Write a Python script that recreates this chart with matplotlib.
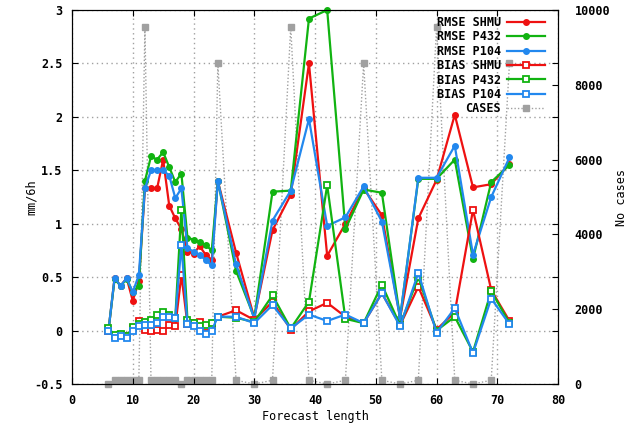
import matplotlib.pyplot as plt
from matplotlib.lines import Line2D

# forecast lengths (h)
lead = list(range(6, 25)) + list(range(27, 73, 3))

rmse_shmu = [0.00, 0.49, 0.42, 0.49, 0.28, 0.46, 1.33, 1.33, 1.33, 1.60, 1.17, 1.05, 0.95, 0.74, 0.72, 0.79, 0.71, 0.66, 1.40,
             0.73, 0.12, 0.94, 1.27, 2.50, 0.70, 1.00, 1.33, 1.08, 0.12, 1.05, 1.41, 2.02, 1.34, 1.37, 1.56]
rmse_p432 = [0.00, 0.48, 0.42, 0.48, 0.36, 0.42, 1.40, 1.63, 1.60, 1.67, 1.53, 1.39, 1.47, 0.87, 0.85, 0.83, 0.80, 0.75, 1.40,
             0.56, 0.12, 1.30, 1.31, 2.92, 3.00, 0.95, 1.32, 1.29, 0.12, 1.42, 1.42, 1.60, 0.67, 1.39, 1.55]
rmse_p104 = [0.00, 0.49, 0.42, 0.49, 0.36, 0.52, 1.33, 1.50, 1.50, 1.50, 1.45, 1.24, 1.33, 0.77, 0.74, 0.71, 0.66, 0.61, 1.40,
             0.62, 0.11, 1.03, 1.31, 1.98, 0.98, 1.06, 1.35, 1.02, 0.12, 1.43, 1.43, 1.73, 0.71, 1.25, 1.62]
bias_shmu = [0.00, -0.05, -0.04, -0.05, 0.02, 0.09, 0.01, 0.00, 0.01, 0.00, 0.05, 0.04, 0.52, 0.06, 0.07, 0.08, 0.03, 0.04, 0.13,
             0.19, 0.10, 0.27, 0.01, 0.18, 0.26, 0.13, 0.07, 0.35, 0.05, 0.41, 0.01, 0.17, 1.13, 0.38, 0.09]
bias_p432 = [0.02, -0.04, -0.03, -0.05, 0.03, 0.06, 0.08, 0.10, 0.15, 0.17, 0.15, 0.12, 1.13, 0.10, 0.07, 0.04, 0.05, 0.07, 0.13,
             0.12, 0.08, 0.33, 0.02, 0.27, 1.36, 0.11, 0.07, 0.43, 0.05, 0.50, 0.00, 0.13, -0.20, 0.37, 0.07]
bias_p104 = [0.00, -0.07, -0.05, -0.07, 0.00, 0.04, 0.05, 0.05, 0.07, 0.13, 0.13, 0.12, 0.80, 0.06, 0.04, 0.00, -0.03, 0.00, 0.13,
             0.13, 0.07, 0.24, 0.02, 0.15, 0.09, 0.15, 0.07, 0.35, 0.04, 0.54, -0.02, 0.21, -0.21, 0.30, 0.06]
cases = [0, 100, 100, 100, 100, 100, 9550, 100, 100, 100, 100, 100, 0, 100, 100, 100, 100, 100, 8570,
         100, 0, 100, 9550, 100, 0, 100, 8570, 100, 0, 100, 9550, 100, 0, 100, 8570]

RED = '#ee1111'
GREEN = '#11b311'
BLUE = '#2288ee'
GRAY = '#a0a0a0'

plt.rcParams['font.family'] = 'DejaVu Sans Mono'
plt.rcParams['font.weight'] = 'bold'
plt.rcParams['font.size'] = 8.5

fig = plt.figure(figsize=(6.29, 4.24), dpi=100)
ax = fig.add_axes([0.1145, 0.0943, 0.7727, 0.8821])
ax2 = ax.twinx()
ax.set_zorder(2)
ax.patch.set_visible(False)

# cases (right axis)
ax2.plot(lead, cases, color=GRAY, lw=1, ls=(0, (1, 1.5)), marker='s', ms=4, clip_on=False)
ax2.set_ylim(0, 10000)
ax2.set_yticks(range(0, 10001, 2000))
ax2.set_ylabel('No cases', labelpad=3)
ax2.tick_params(direction='in', length=4, pad=12)

series = [
    (rmse_shmu, RED, 'o', 'RMSE SHMU'),
    (rmse_p432, GREEN, 'o', 'RMSE P432'),
    (rmse_p104, BLUE, 'o', 'RMSE P104'),
    (bias_shmu, RED, 's', 'BIAS SHMU'),
    (bias_p432, GREEN, 's', 'BIAS P432'),
    (bias_p104, BLUE, 's', 'BIAS P104'),
]
for vals, col, mk, lab in series:
    if mk == 'o':
        ax.plot(lead, vals, color=col, lw=1.6, marker='o', ms=4, label=lab, clip_on=False)
    else:
        ax.plot(lead, vals, color=col, lw=1.6, marker='s', ms=5, mfc='white',
                mew=1.3, label=lab, clip_on=False)

ax.set_xlim(0, 80)
ax.set_ylim(-0.5, 3)
ax.set_xticks(range(0, 81, 10))
ax.set_yticks([-0.5, 0, 0.5, 1, 1.5, 2, 2.5, 3])
ax.set_yticklabels(['-0.5', '0', '0.5', '1', '1.5', '2', '2.5', '3'])
ax.tick_params(direction='in', length=4, top=True, right=True, pad=7)
ax.grid(True, color=GRAY, ls=(0, (1, 2.5)), lw=1)
ax.set_axisbelow(True)
ax.set_xlabel('Forecast length', labelpad=2)
ax.set_ylabel('mm/6h', labelpad=-3)

handles, labels = ax.get_legend_handles_labels()
handles.append(Line2D([], [], color=GRAY, lw=1, ls=(0, (1, 1.5)), marker='s', ms=4))
labels.append('CASES')
ax.legend(handles, labels, loc='upper right', bbox_to_anchor=(0.985, 1.0), frameon=False,
          markerfirst=False, handlelength=3.2, labelspacing=0.12, borderpad=0, handletextpad=0.5)

plt.savefig('out.png', dpi=100)
